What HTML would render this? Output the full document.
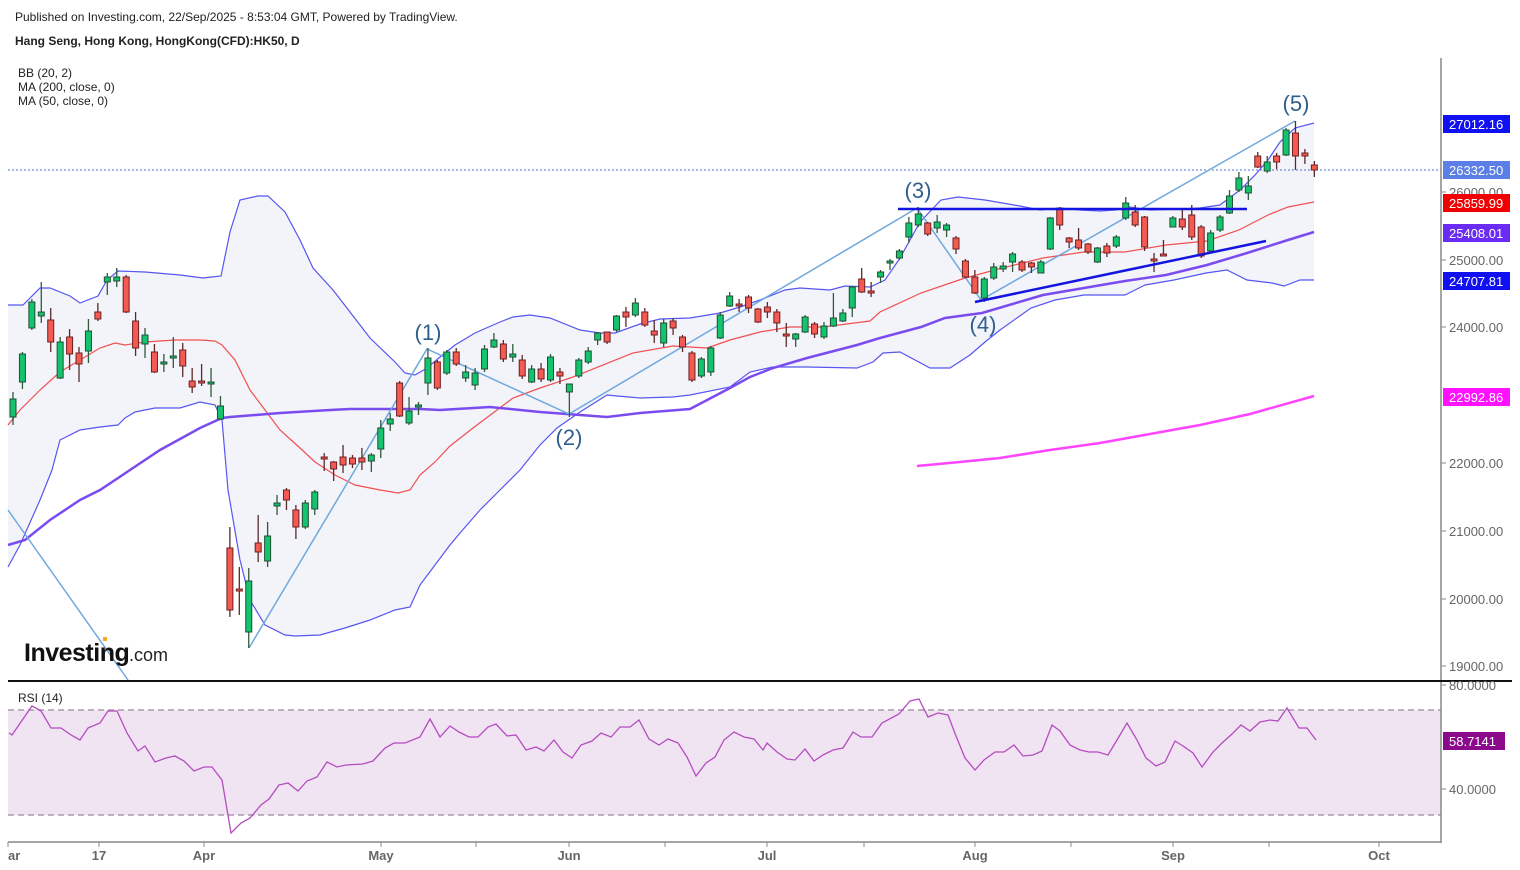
<!DOCTYPE html>
<html><head><meta charset="utf-8"><style>
html,body{margin:0;padding:0;background:#fff;width:1520px;height:870px;overflow:hidden}
svg{display:block;font-family:"Liberation Sans",Arial,sans-serif}
</style></head><body>
<svg id="s" width="1520" height="870" xmlns="http://www.w3.org/2000/svg">
<rect width="1520" height="870" fill="#fff"/>
<text x="15" y="21" font-size="12" fill="#222">Published on Investing.com, 22/Sep/2025 - 8:53:04 GMT, Powered by TradingView.</text>
<text x="15" y="45" font-size="12" font-weight="bold" fill="#222">Hang Seng, Hong Kong, HongKong(CFD):HK50, D</text>
<text x="18" y="77" font-size="12" fill="#222">BB (20, 2)</text>
<text x="18" y="91" font-size="12" fill="#222">MA (200, close, 0)</text>
<text x="18" y="105" font-size="12" fill="#222">MA (50, close, 0)</text>
<g id="g"></g>
</svg>
<script>
var NS="http://www.w3.org/2000/svg",G=document.getElementById('g');
function el(t,a,txt){var e=document.createElementNS(NS,t);for(var k in a)e.setAttribute(k,a[k]);if(txt!=null)e.textContent=txt;G.appendChild(e);return e;}
function pl(p){return p.map(function(q){return q[0]+','+q[1]}).join(' ');}
var up=[[8,305],[23,305],[40,288],[50,288],[70,296],[80,303],[98,296],[107,280],[118,271],[145,272],[180,275],[203,278],[221,276],[230,232],[240,200],[258,196],[268,196],[285,212],[300,240],[313,268],[333,290],[350,312],[370,338],[395,362],[405,373],[415,375],[427,368],[440,357],[455,345],[475,333],[500,322],[513,317],[530,315],[550,318],[580,330],[600,333],[615,333],[640,324],[660,319],[690,318],[720,313],[740,307],[760,300],[785,290],[800,288],[830,290],[845,286],[870,287],[885,280],[900,258],[920,222],[941,200],[958,197],[985,200],[1020,206],[1040,210],[1060,208],[1080,210],[1100,211],[1115,210],[1130,207],[1150,210],[1180,209],[1200,208],[1220,205],[1240,190],[1255,175],[1268,160],[1280,142],[1295,128],[1314,123]];
var lo=[[8,567],[20,545],[40,500],[52,470],[60,440],[80,430],[100,427],[118,425],[125,418],[135,412],[155,408],[180,408],[200,402],[215,405],[222,420],[228,490],[240,560],[250,600],[265,625],[285,635],[295,636],[320,635],[345,628],[370,620],[395,610],[410,607],[420,585],[435,565],[450,545],[460,533],[480,510],[500,490],[520,470],[540,445],[557,428],[580,412],[607,395],[617,396],[640,398],[673,397],[690,395],[730,387],[750,372],[773,367],[807,367],[857,368],[873,362],[883,353],[900,352],[930,368],[950,368],[970,355],[985,342],[1000,330],[1031,308],[1055,300],[1084,295],[1125,295],[1145,285],[1174,280],[1206,273],[1227,270],[1247,280],[1272,283],[1284,286],[1300,280],[1314,280]];
el('polygon',{points:pl(up.concat(lo.slice().reverse())),fill:'#f3f3fa'});
el('rect',{x:8,y:710,width:1433,height:105,fill:'#f1e4f2'});
el('line',{x1:8,y1:710,x2:1441,y2:710,stroke:'#a898a8','stroke-dasharray':'6,4','stroke-width':1.5});
el('line',{x1:8,y1:815,x2:1441,y2:815,stroke:'#a898a8','stroke-dasharray':'6,4','stroke-width':1.5});
var mid=[[8,425],[20,410],[40,390],[60,372],[80,360],[100,348],[115,343],[125,345],[145,342],[175,340],[200,340],[215,341],[222,345],[235,360],[250,390],[265,410],[280,430],[300,448],[315,462],[335,475],[355,485],[380,490],[398,493],[410,490],[420,475],[435,462],[450,446],[473,428],[513,398],[540,388],[573,377],[633,353],[673,346],[707,348],[730,340],[760,332],[790,327],[823,327],[870,321],[880,312],[921,293],[962,279],[1002,268],[1043,258],[1084,252],[1125,252],[1166,245],[1207,241],[1239,230],[1268,215],[1288,207],[1314,202]];
var ma50=[[8,545],[25,540],[50,520],[80,500],[100,490],[130,470],[160,450],[200,428],[222,418],[230,417],[280,413],[330,410],[350,409],[420,409],[440,410],[490,407],[540,412],[607,417],[640,413],[690,409],[730,388],[750,377],[773,368],[807,358],[857,345],[880,338],[921,327],[945,318],[982,313],[1043,295],[1084,288],[1125,281],[1166,275],[1207,265],[1247,253],[1288,240],[1314,232]];
el('polyline',{points:pl(up),fill:'none',stroke:'#5656f0','stroke-width':1.2});
el('polyline',{points:pl(lo),fill:'none',stroke:'#5656f0','stroke-width':1.2});
el('polyline',{points:pl(mid),fill:'none',stroke:'#f05050','stroke-width':1.2});
el('polyline',{points:pl(ma50),fill:'none',stroke:'#7a4cf0','stroke-width':2.5});
el('polyline',{points:'917,466 960,462 1000,458 1050,450 1100,443 1150,434 1200,425 1250,414 1314,396',fill:'none',stroke:'#ff44ff','stroke-width':2.5});
el('line',{x1:8,y1:170,x2:1441,y2:170,stroke:'#4a6fe0','stroke-dasharray':'2,2','stroke-width':1});
el('polyline',{points:'8,510 128,680',fill:'none',stroke:'#6fa8dc','stroke-width':1.5});
el('polyline',{points:'249,648 427,349 569,414 917,208 981,300 1295,121',fill:'none',stroke:'#6fa8dc','stroke-width':1.5});
var C="g399,417,392,425 g354,382,352,389 g302,328,299,330 g312,316,282,323 r320,342,308,352 g342,378,337,379 r337,354,329,370 r353,364,347,382 g331,351,319,363 r312,319,303,321 g277,282,273,295 g277,281,268,287 r277,312,275,313 r321,348,312,356 g335,344,328,358 r352,372,344,373 g362,364,354,372 g356,358,337,368 r350,366,343,377 r381,387,368,393 r381,382,364,386 g382,384,368,397 g406,419,396,420 r548,610,527,617 r589,590,567,615 g581,632,568,648 r543,552,515,562 g536,561,522,567 g503,506,495,515 r490,500,488,510 r510,527,505,539 g503,527,500,529 g492,509,490,515 r457,458,453,471 r462,469,461,481 r457,465,445,473 r458,464,455,468 r458,462,448,470 g455,461,453,472 g428,449,420,458 g419,424,413,431 r383,416,381,417 g411,423,397,425 g405,406,402,415 g358,383,348,395 r362,388,360,390 g352,373,350,375 r352,364,348,366 g372,378,365,382 g373,385,368,390 g349,369,345,372 g340,347,333,348 r344,359,340,362 g354,357,344,362 r360,376,355,379 g369,382,365,383 r369,379,363,382 g357,380,354,382 r372,376,368,384 g384,392,384,417 g360,376,358,378 g351,362,347,364 g333,340,332,345 r332,342,332,344 g316,330,315,332 r312,317,307,327 g303,315,298,317 r312,325,308,327 r331,335,320,343 g323,343,319,347 r321,328,318,335 r337,347,335,352 r353,380,351,382 g359,376,357,378 g348,372,346,376 g315,338,312,339 g296,306,292,307 r304,305,299,312 r297,308,295,313 r309,322,308,323 r307,312,302,318 r312,323,309,332 r334,335,323,347 g334,339,333,347 g317,332,315,333 r324,334,322,338 g326,337,322,339 g318,326,293,327 g313,321,309,322 g287,308,286,317 r279,292,268,293 r291,293,282,297 g272,277,270,283 g261,262,259,270 g251,258,249,260 g223,237,217,243 g214,225,207,227 r223,234,222,236 g222,228,215,233 g225,230,223,237 r238,249,236,254 r261,277,259,278 r277,293,270,294 g279,298,277,302 g267,278,263,280 g266,269,262,272 g254,262,252,272 r262,270,260,272 r263,267,262,273 g262,273,260,273 g218,249,217,250 r208,225,207,230 r238,242,237,248 r240,248,228,250 r244,252,243,254 g248,262,247,263 r246,253,243,257 g237,246,235,248 g203,218,197,220 r212,225,205,227 r217,247,216,251 r259,260,253,272 r254,255,240,256 g218,227,216,227 r219,227,210,230 r215,237,205,240 r227,256,225,258 g233,251,230,253 g217,230,215,232 g196,213,190,214 g178,190,172,192 g186,193,176,200 r156,167,152,168 g162,171,156,173 r156,162,153,169 g130,155,128,156 r133,156,121,170 r153,156,149,164 r165,170,161,177".split(' ');
C.forEach(function(s,i){var g=s[0]=='g',v=s.slice(1).split(',').map(Number),x=13+i*9.43;
 var wc=g?'#2f5a3c':'#5a2a2a';
 el('line',{x1:x,y1:v[2],x2:x,y2:v[3],stroke:wc,'stroke-width':1.3});
 var h=Math.max(v[1]-v[0],2);
 el('rect',{x:x-3,y:v[0],width:6,height:h,fill:g?'#14c36e':'#f25a52',stroke:g?'#1f4f33':'#6e2020','stroke-width':1});
});
el('line',{x1:898,y1:209,x2:1247,y2:209,stroke:'#1414e0','stroke-width':2.5});
el('line',{x1:975,y1:302,x2:1266,y2:241,stroke:'#1414e0','stroke-width':2.5});
[['(1)',428,340],['(2)',569,445],['(3)',918,198],['(4)',983,332],['(5)',1296,111]].forEach(function(a){el('text',{x:a[1],y:a[2],'font-size':22,fill:'#2f5f8f','text-anchor':'middle'},a[0]);});
el('text',{x:24,y:661,'font-size':25,'font-weight':'bold',fill:'#111','letter-spacing':'-0.5'},'Investing');
el('text',{x:129,y:661,'font-size':18,fill:'#222'},'.com');
el('rect',{x:103,y:637,width:4,height:4,fill:'#f5a623'});
var rsi=[[9,733],[12,735],[32,706],[41,711],[51,728],[61,728],[71,735],[80,740],[88,728],[100,723],[108,711],[117,711],[127,733],[138,751],[145,746],[155,762],[166,758],[175,756],[184,761],[194,771],[204,767],[212,767],[222,780],[231,833],[241,823],[250,818],[261,805],[269,799],[279,785],[288,783],[298,791],[307,781],[317,777],[327,762],[337,767],[346,765],[363,764],[373,761],[385,748],[394,743],[405,743],[420,737],[430,719],[440,737],[450,726],[459,732],[469,737],[478,737],[488,727],[496,724],[507,736],[516,735],[526,750],[536,747],[544,751],[554,740],[563,752],[572,758],[581,745],[592,741],[601,733],[611,737],[620,727],[630,727],[639,720],[649,739],[659,745],[668,739],[678,743],[687,757],[696,776],[706,763],[715,757],[724,740],[734,732],[744,737],[754,739],[763,750],[767,743],[777,752],[787,759],[795,760],[805,749],[814,761],[823,755],[833,750],[843,748],[853,732],[861,737],[872,737],[882,723],[899,714],[910,701],[919,699],[928,717],[938,713],[948,715],[956,736],[965,758],[975,770],[984,760],[995,752],[1004,752],[1014,745],[1023,756],[1033,755],[1042,751],[1052,725],[1060,731],[1070,745],[1080,750],[1089,752],[1098,752],[1108,755],[1117,740],[1127,723],[1137,740],[1146,758],[1156,766],[1165,762],[1175,741],[1183,746],[1193,753],[1202,767],[1213,752],[1222,743],[1232,734],[1241,725],[1250,731],[1260,722],[1270,720],[1278,721],[1287,708],[1299,728],[1307,728],[1316,740]];
el('polyline',{points:pl(rsi),fill:'none',stroke:'#b44cc0','stroke-width':1.3});
el('text',{x:18,y:702,'font-size':12,fill:'#222'},'RSI (14)');
el('line',{x1:1441,y1:58,x2:1441,y2:843,stroke:'#888','stroke-width':1.5});
el('line',{x1:8,y1:681,x2:1512,y2:681,stroke:'#111','stroke-width':2});
el('line',{x1:8,y1:842,x2:1441,y2:842,stroke:'#888','stroke-width':1.5});
[['26000.00',192],['25000.00',260],['24000.00',327],['22000.00',463],['21000.00',531],['20000.00',599],['19000.00',666]].forEach(function(a){
 el('line',{x1:1441,y1:a[1],x2:1446,y2:a[1],stroke:'#888'});
 el('text',{x:1449,y:a[1]+5,'font-size':13,fill:'#666'},a[0]);});
[['80.0000',685],['40.0000',789]].forEach(function(a){
 el('line',{x1:1441,y1:a[1],x2:1446,y2:a[1],stroke:'#888'});
 el('text',{x:1449,y:a[1]+5,'font-size':13,fill:'#666'},a[0]);});
[['27012.16',124,'#1010f0'],['26332.50',170,'#5b7fe6'],['25859.99',203,'#f00000'],['25408.01',233,'#6a2cf5'],['24707.81',281,'#1010f0'],['22992.86',397,'#ff10ff'],['58.7141',741,'#8b0a8b']].forEach(function(a){
 el('rect',{x:1443,y:a[1]-9,width:a[0].length>7?67:62,height:18,fill:a[2]});
 el('text',{x:1449,y:a[1]+5,'font-size':13,fill:'#fff'},a[0]);});
[[8,'ar'],[99,'17'],[204,'Apr'],[381,'May'],[569,'Jun'],[767,'Jul'],[975,'Aug'],[1173,'Sep'],[1379,'Oct']].forEach(function(a){
 el('line',{x1:a[0],y1:842,x2:a[0],y2:847,stroke:'#888'});
 el('text',{x:a[0],y:860,'font-size':13,'font-weight':'bold',fill:'#666','text-anchor':a[1]=='ar'?'start':'middle'},a[1]);});
[476,665,864,1071,1269].forEach(function(x){el('line',{x1:x,y1:842,x2:x,y2:847,stroke:'#888'});});
</script>
</body></html>
